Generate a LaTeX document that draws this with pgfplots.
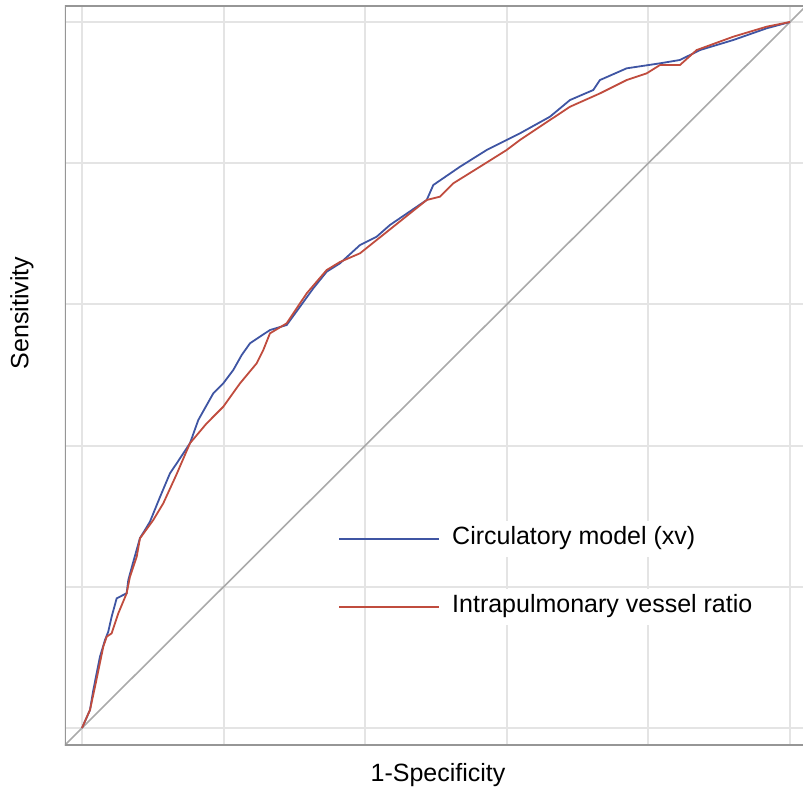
\documentclass[border=0pt]{standalone}
\usepackage{fontspec}
\setmainfont{Liberation Sans}
\usepackage{pgfplots}
\pgfplotsset{compat=1.18}
\definecolor{rocblue}{RGB}{63,85,163}
\definecolor{rocred}{RGB}{192,76,62}
\definecolor{gridgray}{RGB}{228,228,228}
\definecolor{framegray}{RGB}{150,150,150}
\definecolor{diaggray}{RGB}{170,170,170}
\newcommand{\lblfont}{\fontsize{12.5}{15}\selectfont}
\begin{document}
\begin{tikzpicture}
\begin{axis}[
  at={(32.5pt,24pt)}, anchor=south west,
  scale only axis, width=369pt, height=369.5pt,
  xmin=-0.024, xmax=1.0184, ymin=-0.0241, ymax=1.0227,
  xtick={0,0.2,0.4,0.6,0.8,1}, ytick={0,0.2,0.4,0.6,0.8,1},
  xticklabels={}, yticklabels={}, major tick length=0pt,
  grid=major, grid style={gridgray, line width=1pt},
  axis line style={draw=none},
  clip=true,
  xlabel={1-Specificity}, ylabel={Sensitivity},
  label style={font=\lblfont},
  xlabel style={at={(rel axis cs:0.5054,-0.0406)}, anchor=center},
  ylabel style={at={(rel axis cs:-0.0583,0.5846)}, anchor=center},
  legend style={at={(axis cs:0.3616,0.2197)}, anchor=west, draw=none, fill=none,
    font=\lblfont, inner sep=0pt, row sep=16pt, column sep=3pt,
    nodes={fill=white, inner sep=3pt, text height=9pt, text depth=3pt}},
  legend cell align=left,
]
\addplot[diaggray, line width=0.8pt, forget plot] coordinates {(-0.1,-0.1) (1.1,1.1)};
\addplot[rocblue, line width=0.9pt,
  legend image code/.code={\draw[rocblue, line width=0.9pt] (0pt,0pt) -- (50pt,0pt);}] coordinates {
(0,0) (0.0113,0.0255) (0.0160,0.0538) (0.0254,0.1010) (0.0325,0.1246)
(0.0371,0.1364) (0.0419,0.1577) (0.0490,0.1837) (0.0631,0.1908) (0.0654,0.2096)
(0.0725,0.2356) (0.0819,0.2691) (0.0890,0.2805) (0.0960,0.2922) (0.1102,0.3272)
(0.1243,0.3608) (0.1338,0.3749) (0.1525,0.4033) (0.1643,0.4363) (0.1855,0.4741)
(0.1996,0.4882) (0.2137,0.5071) (0.2256,0.5283) (0.2373,0.5449) (0.2514,0.5543)
(0.2655,0.5637) (0.2891,0.5708) (0.3079,0.5967) (0.3267,0.6228) (0.3456,0.6463)
(0.3644,0.6582) (0.3927,0.6841) (0.4162,0.6959) (0.4350,0.7125) (0.4869,0.7479)
(0.4962,0.7691) (0.5339,0.7950) (0.5716,0.8187) (0.5951,0.8305) (0.6186,0.8423)
(0.6610,0.8659) (0.6893,0.8895) (0.7222,0.9037) (0.7316,0.9178) (0.7693,0.9344)
(0.8164,0.9415) (0.8446,0.9462) (0.8729,0.9603) (0.9199,0.9745) (0.9671,0.9911)
(1,1)};
\addlegendentry{Circulatory model (xv)}
\addplot[rocred, line width=0.9pt,
  legend image code/.code={\draw[rocred, line width=0.9pt] (0pt,0pt) -- (50pt,0pt);}] coordinates {
(0,0) (0.0113,0.0255) (0.0184,0.0585) (0.0301,0.1152) (0.0349,0.1293)
(0.0419,0.1341) (0.0513,0.1624) (0.0631,0.1908) (0.0678,0.2143) (0.0773,0.2426)
(0.0819,0.2686) (0.1007,0.2946) (0.1148,0.3182) (0.1330,0.3580) (0.1525,0.4033)
(0.1761,0.4315) (0.1996,0.4551) (0.2232,0.4882) (0.2467,0.5165) (0.2561,0.5354)
(0.2655,0.5590) (0.2891,0.5732) (0.3174,0.6157) (0.3456,0.6487) (0.3644,0.6601)
(0.3927,0.6724) (0.4162,0.6912) (0.4869,0.7479) (0.5056,0.7526) (0.5244,0.7715)
(0.5621,0.7950) (0.5998,0.8187) (0.6186,0.8329) (0.6610,0.8612) (0.6893,0.8800)
(0.7316,0.8989) (0.7693,0.9178) (0.7976,0.9273) (0.8164,0.9391) (0.8446,0.9391)
(0.8682,0.9603) (0.9199,0.9792) (0.9671,0.9934) (1,1)};
\addlegendentry{Intrapulmonary vessel ratio}
\draw[framegray, line width=1pt] (rel axis cs:1,1) -- (rel axis cs:0,1) -- (rel axis cs:0,0) -- (rel axis cs:1,0);
\end{axis}
\pgfresetboundingbox
\path (0,0) rectangle (401.5pt,396.5pt);
\end{tikzpicture}
\end{document}
